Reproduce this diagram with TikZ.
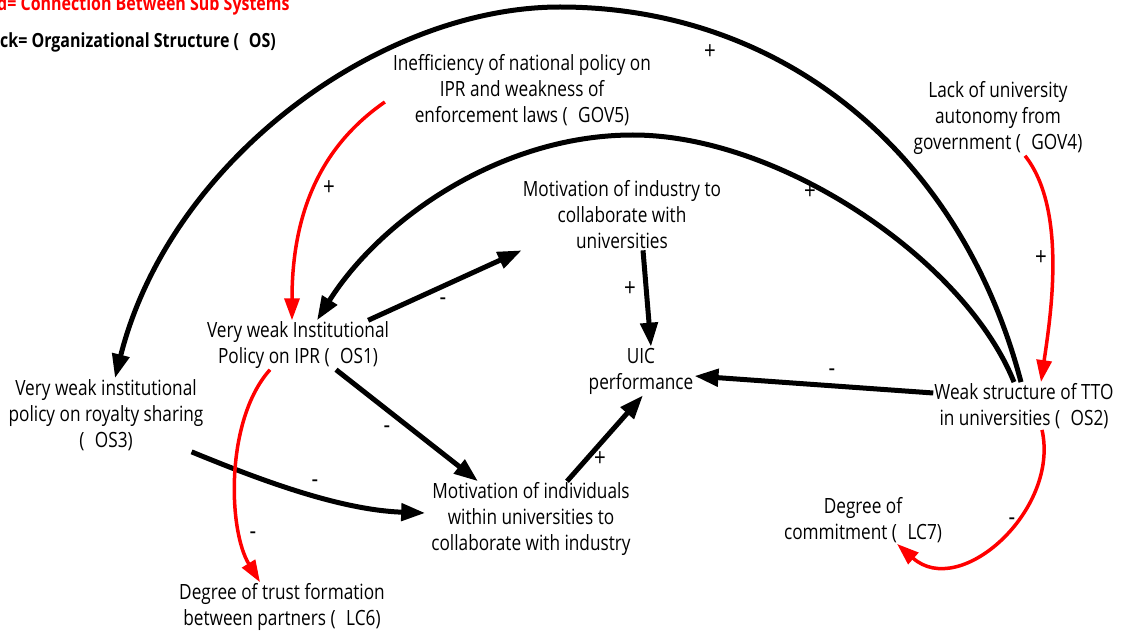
\documentclass[tikz,border=0pt]{standalone}
\usepackage{fontspec}
\setmainfont{Open Sans}[FakeStretch=0.82]
\usetikzlibrary{arrows.meta}

\tikzset{
  var/.style={align=center, inner sep=1pt, font=\fontsize{21}{26}\selectfont},
  sign/.style={inner sep=0pt, font=\fontsize{25}{25}\selectfont},
  legend/.style={anchor=base west, inner sep=0pt, font=\bfseries\fontsize{19.5}{19.5}\selectfont},
  blackarrow/.style={line width=5pt, -{Triangle[length=24pt,width=17pt]}},
  redarrow/.style={red, line width=3.5pt, -{Triangle[length=22pt,width=15pt]}},
}

\begin{document}
\begin{tikzpicture}[x=1pt, y=-1pt]
    \useasboundingbox (0,0) rectangle (1122,631);
    \clip (0,0) rectangle (1122,631);

    % Legend
    \node[legend, text=red] (legred) at (-3,11) {d= Connection Between Sub Systems};
    \node[legend] (legblack) at (0,48) {ck= Organizational Structure (\hspace{0.5em}OS)};

    % Variables
    \node[var] (gov5) at (522,90) {Inefficiency of national policy on\\IPR and weakness of\\enforcement laws (\hspace{0.5em}GOV5)};
    \node[var] (gov4) at (998,118) {Lack of university\\autonomy from\\government (\hspace{0.5em}GOV4)};
    \node[var] (ind) at (622,215) {Motivation of industry to\\collaborate with\\universities};
    \node[var] (os1) at (298,345) {Very weak Institutional\\Policy on IPR (\hspace{0.5em}OS1)};
    \node[var] (uic) at (641,371) {UIC\\performance};
    \node[var] (os3) at (106,415) {Very weak institutional\\policy on royalty sharing\\(\hspace{0.5em}OS3)};
    \node[var] (os2) at (1024,406) {Weak structure of TTO\\in universities (\hspace{0.5em}OS2)};
    \node[var] (indiv) at (531,519) {Motivation of individuals\\within universities to\\collaborate with industry};
    \node[var] (lc7) at (863,520) {Degree of\\commitment (\hspace{0.5em}LC7)};
    \node[var] (lc6) at (282,607) {Degree of trust formation\\between partners (\hspace{0.5em}LC6)};

    % Black links: Organizational Structure
    \draw[blackarrow] ([xshift=-3pt]os2.north) .. controls (960,150) and (780,7) .. (560,7)
        .. controls (380,7) and (170,160) .. ([xshift=9pt]os3.north);
    \draw[blackarrow] ([xshift=-10pt]os2.north) .. controls (965,260) and (780,135) .. (633,135)
        .. controls (500,135) and (380,220) .. ([xshift=19pt]os1.north);
    \draw[blackarrow] ([xshift=-22pt]os1.north east) -- (ind.south west);
    \draw[blackarrow] ([xshift=21pt]ind.south) -- ([xshift=10pt]uic.north);
    \draw[blackarrow] ([yshift=13pt]os2.west) -- ([yshift=-5pt]uic.east);
    \draw[blackarrow] ([xshift=38pt]os1.south) -- ([xshift=-53pt]indiv.north);
    \draw[blackarrow] ([xshift=36pt]indiv.north) -- ([xshift=2pt]uic.south);
    \draw[blackarrow] ([xshift=-13pt]os3.south east) .. controls (260,480) and (340,510) .. ([xshift=-5pt,yshift=6pt]indiv.west);

    % Red links: between sub systems
    \draw[redarrow] ([xshift=-7pt,yshift=-12pt]gov5.west) .. controls (330,140) and (292,200) .. ([xshift=-6pt]os1.north);
    \draw[redarrow] ([xshift=27pt]gov4.south) .. controls (1068,210) and (1050,320) .. ([xshift=17pt]os2.north);
    \draw[redarrow] ([xshift=-28pt]os1.south) .. controls (225,420) and (228,530) .. ([xshift=-22pt]lc6.north);
    \draw[redarrow] ([xshift=18pt]os2.south) .. controls (1060,510) and (960,600) .. ([xshift=34pt]lc7.south);

    % Polarities
    \foreach \x/\y/\s [count=\i] in {710/52/+, 329/188/+, 810/192/+, 1041/258/+, 630/289/+, 443/302/-,
        832/373/-, 387/430/-, 600/459/+, 315/484/-, 253/536/-, 1012/522/-}
        \node[sign] (pol\i) at (\x,\y) {\s};
\end{tikzpicture}
\end{document}
